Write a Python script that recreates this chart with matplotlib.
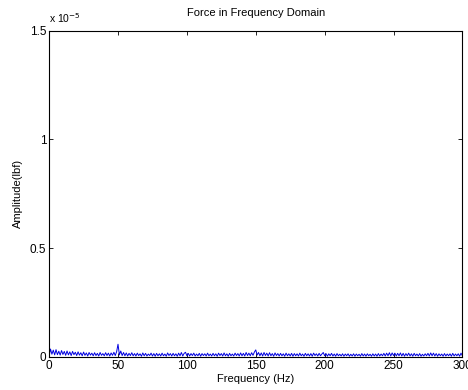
import numpy as np
import matplotlib
matplotlib.use('Agg')
import matplotlib.pyplot as plt
from matplotlib.ticker import FuncFormatter

# frequency axis, 1 Hz bins from 0 to 300 Hz
freq = np.arange(0, 301)

# amplitude, units of 1e-7 lbf
amp_e7 = [
    0.4, 3.6, 1.2, 3.1, 0.9, 3.3, 1.0, 2.6, 0.8, 2.9, 1.1, 2.5, 0.7, 2.7, 0.9, 2.3, 0.6, 2.5, 1.0, 2.1,
    0.6, 2.3, 0.8, 1.9, 0.5, 2.2, 0.7, 1.8, 0.4, 2.0, 0.8, 1.7, 0.5, 1.9, 0.6, 1.6, 0.4, 2.0, 0.7, 1.5,
    0.5, 1.9, 0.6, 1.7, 0.4, 1.8, 0.7, 2.1, 0.6, 2.4, 5.8, 0.9, 2.7, 0.6, 2.0, 0.5, 1.8, 0.4, 1.6, 0.6,
    1.9, 0.5, 1.5, 0.4, 1.7, 0.6, 1.4, 0.3, 1.8, 0.5, 1.6, 0.4, 1.3, 0.6, 1.7, 0.4, 1.5, 0.3, 1.6, 0.5,
    1.4, 0.4, 1.7, 0.5, 1.3, 0.3, 1.8, 0.6, 1.5, 0.4, 1.6, 0.5, 1.4, 0.3, 1.7, 0.5, 2.0, 0.4, 1.6, 2.1,
    0.5, 1.6, 0.4, 1.5, 0.6, 1.7, 0.4, 1.3, 0.5, 1.6, 0.3, 1.5, 0.6, 1.4, 0.4, 1.7, 0.5, 1.3, 0.4, 1.6,
    0.5, 1.4, 0.3, 1.7, 0.6, 1.5, 0.4, 1.8, 0.5, 1.4, 0.3, 1.6, 0.5, 1.3, 0.4, 1.7, 0.6, 1.5, 0.4, 1.8,
    0.5, 1.6, 0.4, 2.0, 0.6, 1.7, 0.5, 1.9, 0.7, 2.2, 3.2, 0.8, 2.0, 0.5, 1.8, 0.4, 2.0, 0.6, 1.7, 0.4,
    1.9, 0.5, 1.5, 0.3, 1.8, 0.6, 1.5, 0.4, 1.6, 0.5, 1.4, 0.3, 1.7, 0.5, 1.4, 0.4, 1.6, 0.3, 1.5, 0.5,
    1.4, 0.4, 1.7, 0.5, 1.3, 0.3, 1.6, 0.5, 1.4, 0.4, 1.5, 0.3, 1.7, 0.6, 1.4, 0.4, 1.6, 0.5, 1.3, 2.0,
    0.5, 1.5, 0.3, 1.4, 0.5, 1.6, 0.4, 1.3, 0.3, 1.5, 0.5, 1.2, 0.4, 1.4, 0.3, 1.3, 0.5, 1.4, 0.3, 1.2,
    0.4, 1.4, 0.3, 1.3, 0.5, 1.2, 0.3, 1.5, 0.4, 1.3, 0.3, 1.4, 0.5, 1.2, 0.3, 1.4, 0.4, 1.3, 0.3, 1.5,
    0.4, 1.3, 0.5, 1.6, 0.4, 1.7, 0.5, 1.9, 0.4, 1.8, 0.6, 1.7, 0.4, 1.6, 0.5, 1.8, 0.4, 1.6, 0.3, 1.5,
    0.5, 1.7, 0.4, 1.4, 0.3, 1.6, 0.5, 1.3, 0.4, 1.5, 0.3, 1.2, 0.4, 1.4, 0.5, 1.6, 0.4, 1.8, 0.5, 1.7,
    0.4, 1.5, 0.3, 1.4, 0.5, 1.3, 0.3, 1.5, 0.4, 1.3, 0.5, 1.4, 0.3, 1.6, 0.4, 1.3, 0.5, 1.4, 0.3, 1.7,
    0.5,
]

y_ticks = [0, 0.5e-5, 1.0e-5, 1.5e-5]
x_ticks = [0, 50, 100, 150, 200, 250, 300]

plt.rcParams['font.family'] = ['Liberation Sans', 'DejaVu Sans']

fig = plt.figure(figsize=(4.68, 3.9), dpi=100)
ax = fig.add_axes([0.105, 0.085, 0.883, 0.836])

amp = np.array(amp_e7) * 1e-7
ax.plot(freq, amp, color='#0000e0', lw=0.7)

ax.set_xlim(0, 300)
ax.set_ylim(0, 1.5e-5)
ax.set_xticks(x_ticks)
ax.set_yticks(y_ticks)
ax.yaxis.set_major_formatter(FuncFormatter(lambda v, p: '%g' % round(v / 1e-5, 3)))
ax.tick_params(direction='in', top=True, right=True, labelsize=8.5, length=3, width=0.6, pad=2)
for s in ax.spines.values():
    s.set_linewidth(0.8)

ax.text(0.0, 1.018, r'x 10$^{-5}$', transform=ax.transAxes, fontsize=7.5,
        ha='left', va='bottom')
ax.set_title('Force in Frequency Domain', fontsize=8, pad=11)
ax.set_xlabel('Frequency (Hz)', fontsize=8, labelpad=2)
ax.set_ylabel('Amplitude(lbf)', fontsize=8, labelpad=5)

fig.savefig('out.png', dpi=100)
